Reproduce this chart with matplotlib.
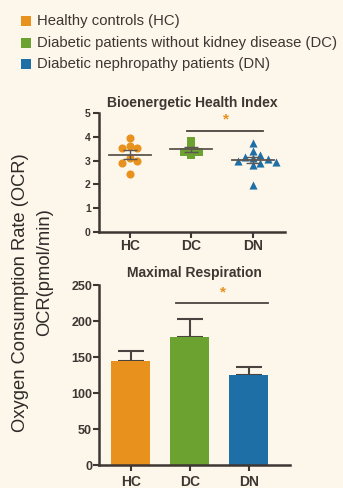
import numpy as np
import matplotlib
matplotlib.use("Agg")
import matplotlib.pyplot as plt
from matplotlib.patches import Rectangle


plt.rcParams['font.family'] = ['Liberation Sans', 'DejaVu Sans']

groups = ["HC", "DC", "DN"]
legend_labels = ["Healthy controls (HC)",
                 "Diabetic patients without kidney disease (DC)",
                 "Diabetic nephropathy patients (DN)"]
colors = ["#E8911C", "#6CA22F", "#1D6FA6"]

# Bioenergetic Health Index, one value per subject
bhi_hc = [3.95, 3.61, 3.53, 3.53, 3.11, 2.98, 2.90, 2.44]
bhi_dc = [3.84, 3.54, 3.37, 3.37, 3.24]
bhi_dn = [3.75, 3.42, 3.22, 3.15, 3.10, 3.05, 3.00, 2.95, 2.90, 2.80, 1.97]

# Maximal respiration, mean and SEM (pmol/min)
maxresp_mean = [145, 178, 125]
maxresp_sem = [13, 25, 11]

bg = "#FCF6EB"
ink = "#3E3632"
W, H = 343, 488


def swarm_offsets(vals, xscale, yscale, diam):
    # place points one by one at the smallest free horizontal offset
    order = np.argsort(vals)[::-1]
    placed = []
    offs = np.zeros(len(vals))
    for i in order:
        y = vals[i] * yscale
        for k in range(0, 20):
            cand = (k + 1) // 2 * (1 if k % 2 else -1) * diam if k else 0.0
            if all((cand - px) ** 2 + (y - py) ** 2 >= diam ** 2 * 0.8 for px, py in placed):
                break
        placed.append((cand, y))
        offs[i] = cand / xscale
    return offs


fig = plt.figure(figsize=(W / 100, H / 100), dpi=100, facecolor=bg)

# legend block
for i, (lab, c) in enumerate(zip(legend_labels, colors)):
    yc = 1 - (21 + 21.5 * i) / H
    fig.patches.append(Rectangle((21 / W, yc - 5 / H), 10 / W, 10 / H,
                                 transform=fig.transFigure, color=c, lw=0))
    fig.text(37 / W, yc, lab, fontsize=10.7, color=ink, va="center", ha="left")

fig.text(21 / W, 1 - 293 / H, "Oxygen Consumption Rate (OCR)", rotation=90,
         fontsize=13.2, color="#2E2A28", ha="center", va="center")
fig.text(45 / W, 1 - 272 / H, "OCR(pmol/min)", rotation=90,
         fontsize=13.2, color="#2E2A28", ha="center", va="center")


def style_axis(ax):
    ax.set_facecolor("none")
    for s in ["top", "right"]:
        ax.spines[s].set_visible(False)
    for s in ["left", "bottom"]:
        ax.spines[s].set_color(ink)
        ax.spines[s].set_linewidth(1.8)
    ax.tick_params(colors=ink, width=1.5, length=4, direction="out")


# top: scatter with mean and SEM
ax1 = fig.add_axes([99 / W, 1 - 232 / H, 186 / W, 119 / H])
style_axis(ax1)
pxx = 61.5
pxy = 23.8
markers = ["o", "s", "^"]
for i, (vals, c, m) in enumerate(zip([bhi_hc, bhi_dc, bhi_dn], colors, markers)):
    vals = np.array(vals)
    offs = swarm_offsets(vals, pxx, pxy, 7.5)
    ax1.scatter(i + offs, vals, s=34, marker=m, color=c, lw=0, zorder=3)
    mean = vals.mean()
    sem = vals.std(ddof=1) / np.sqrt(len(vals))
    ax1.plot([i - 0.34, i + 0.34], [mean, mean], color="#5E5550", lw=1.3, zorder=4)
    ax1.errorbar(i, mean, yerr=sem, color="#5E5550", lw=1.0, capsize=5, capthick=1.0,
                 zorder=4)
ax1.set_xlim(-0.5, 2.52)
ax1.set_ylim(0, 5)
ax1.set_yticks(range(0, 6))
ax1.set_xticks(range(3))
ax1.set_xticklabels(groups, fontsize=10, fontweight="bold")
ax1.tick_params(axis="y", labelsize=7.5, pad=2)
ax1.tick_params(axis="x", pad=1)
for lab in ax1.get_yticklabels():
    lab.set_fontweight("bold")
ax1.set_title("Bioenergetic Health Index", fontsize=10, fontweight="bold",
              color=ink, pad=4)
ax1.plot([0.93, 2.16], [4.24, 4.24], color="#4A4440", lw=1.3, clip_on=False)
ax1.text(1.56, 4.72, "*", color=colors[0], fontsize=11, fontweight="bold",
         ha="center", va="center")

# bottom: bars with SEM
ax2 = fig.add_axes([99 / W, 1 - 465 / H, 191 / W, 180 / H])
style_axis(ax2)
ax2.bar(range(3), maxresp_mean, width=0.66, color=colors, zorder=2)
ax2.errorbar(range(3), maxresp_mean, yerr=[[0, 0, 0], maxresp_sem], fmt="none",
             ecolor="#4A4440", elinewidth=1.5, capsize=9.5, capthick=1.5, zorder=1)
ax2.set_xlim(-0.54, 2.7)
ax2.set_ylim(0, 250)
ax2.set_yticks(range(0, 251, 50))
ax2.set_xticks(range(3))
ax2.set_xticklabels(groups, fontsize=10, fontweight="bold")
ax2.tick_params(axis="y", labelsize=9, pad=1)
for lab in ax2.get_yticklabels():
    lab.set_fontweight("bold")
ax2.set_title("Maximal Respiration", fontsize=10, fontweight="bold",
              color=ink, pad=6)
ax2.plot([0.77, 2.33], [225, 225], color="#4A4440", lw=1.3, clip_on=False)
ax2.text(1.57, 240, "*", color=colors[0], fontsize=11, fontweight="bold",
         ha="center", va="center")

fig.savefig("out.png", dpi=100, facecolor=bg)
